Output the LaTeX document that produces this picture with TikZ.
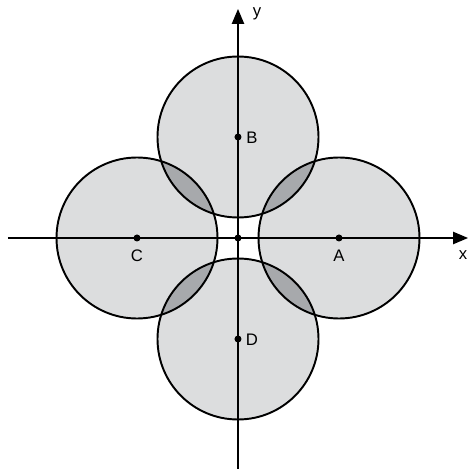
\documentclass[tikz,border=0pt]{standalone}
\usepackage{fontspec}
\setmainfont{Liberation Sans}
\usetikzlibrary{arrows.meta}
\definecolor{disklight}{HTML}{DCDDDE}
\definecolor{diskdark}{HTML}{A7A9AC}
\tikzset{
  disk/.style={draw=black,line width=1.1pt},
  axis/.style={line width=0.85pt,-{Triangle[length=8.5pt,width=7pt]}},
  lbl/.style={font=\fontsize{9.5}{11}\selectfont,inner sep=0pt}
}
\begin{document}
\begin{tikzpicture}[x=2cm,y=2cm]
\useasboundingbox (-2.38,-2.31) rectangle (2.31,2.38);
\coordinate (O) at (0,0);
\coordinate (A) at (1.01,0);
\coordinate (B) at (0,1.01);
\coordinate (C) at (-1.01,0);
\coordinate (D) at (0,-1.01);
\coordinate (xl) at (-2.30,0);
\coordinate (xr) at (2.30,0);
\coordinate (yb) at (0,-2.31);
\coordinate (yt) at (0,2.29);
% disks
\foreach \c in {A,B,C,D}
  \fill[disklight] (\c) circle (1.61cm);
% overlaps
\foreach \p/\q in {A/B,B/C,C/D,D/A}{
  \begin{scope}
    \clip (\p) circle (1.61cm);
    \fill[diskdark] (\q) circle (1.61cm);
  \end{scope}
}
\foreach \c in {A,B,C,D}
  \draw[disk] (\c) circle (1.61cm);
% axes
\draw[axis] (xl) -- (xr);
\draw[axis] (yb) -- (yt);
\foreach \c in {O,A,B,C,D}
  \fill (\c) circle (0.07cm);
\node[lbl] (la) at (1.01,-0.18) {A};
\node[lbl] (lb) at (0.14,1.00) {B};
\node[lbl] (lc) at (-1.01,-0.18) {C};
\node[lbl] (ld) at (0.14,-1.02) {D};
\node[lbl] (lx) at (2.25,-0.17) {x};
\node[lbl] (ly) at (0.19,2.24) {y};
\end{tikzpicture}
\end{document}
